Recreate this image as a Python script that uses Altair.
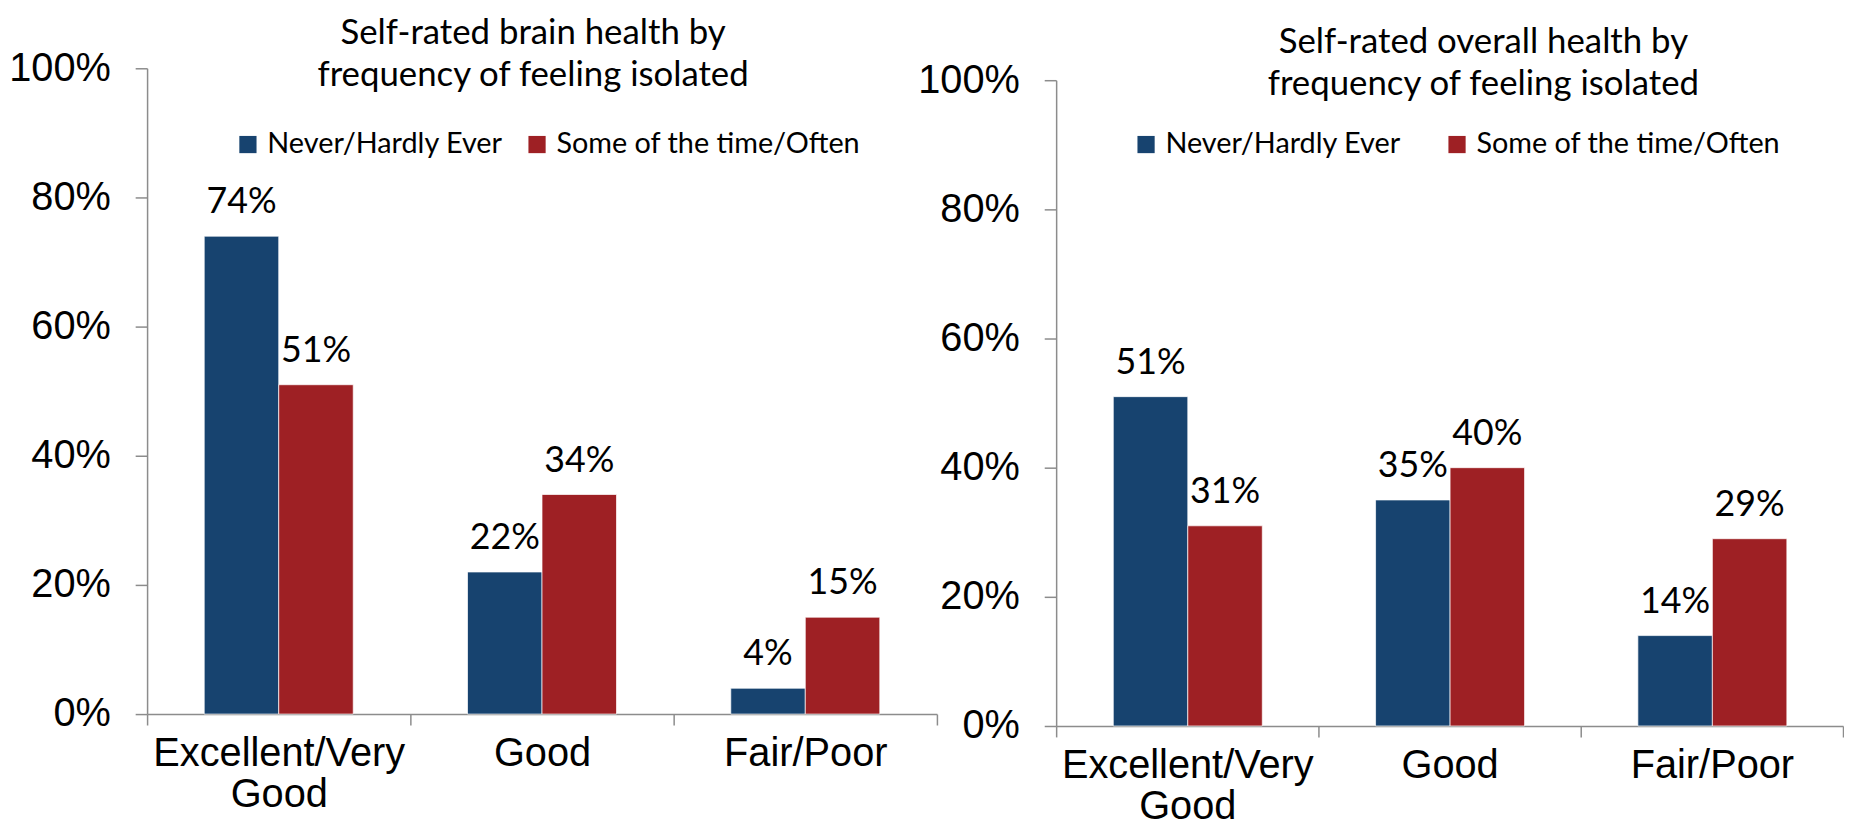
import altair as alt
import pandas as pd

categories = ["Excellent/Very Good", "Good", "Fair/Poor"]
series = ["Never/Hardly Ever", "Some of the time/Often"]
brain_never = [74, 22, 4]
brain_often = [51, 34, 15]
overall_never = [51, 35, 14]
overall_often = [31, 40, 29]
colors = ["#17436F", "#9E2024"]
y_ticks = [0, 0.2, 0.4, 0.6, 0.8, 1.0]
brain_title = ["Self-rated brain health by", "frequency of feeling isolated"]
overall_title = ["Self-rated overall health by", "frequency of feeling isolated"]


def make_df(never, often):
    rows = []
    for c, n, o in zip(categories, never, often):
        rows.append({"cat": c, "series": series[0], "value": n / 100})
        rows.append({"cat": c, "series": series[1], "value": o / 100})
    return pd.DataFrame(rows)


LABEL_EXPR = "datum.value == 'Excellent/Very Good' ? ['Excellent/Very', 'Good'] : datum.value"


def panel(df, title_lines, width, height, top, lx, ly, col_pad, title_dx, title_offset):
    base = alt.Chart(df).encode(
        x=alt.X(
            "cat:N", sort=categories, title=None,
            scale=alt.Scale(paddingInner=0, paddingOuter=0),
            axis=alt.Axis(labelAngle=0, tickBand="extent", tickSize=11,
                          labelPadding=9, labelLineHeight=41,
                          labelExpr=LABEL_EXPR, labelFontSize=40,
                          labelLimit=400, labelFont="Liberation Sans"),
        ),
        xOffset=alt.XOffset("series:N", sort=series,
                            scale=alt.Scale(paddingInner=0, paddingOuter=0.767)),
        y=alt.Y(
            "value:Q", title=None,
            scale=alt.Scale(domain=[0, 1], nice=False, range=[height, top]),
            axis=alt.Axis(values=y_ticks, format=".0%", tickSize=12,
                          labelPadding=25, labelFontSize=40,
                          labelFont="Liberation Sans"),
        ),
    )
    bars = base.mark_bar(stroke="white", strokeWidth=1, strokeOpacity=0.7).encode(
        color=alt.Color(
            "series:N", sort=series,
            scale=alt.Scale(domain=series, range=colors),
            legend=alt.Legend(orient="none", legendX=lx, legendY=ly,
                              direction="horizontal", title=None,
                              symbolType="square", symbolSize=300,
                              symbolStrokeWidth=0, labelFont="Lato",
                              labelFontSize=29, labelOffset=5,
                              columnPadding=col_pad, labelLimit=500,
                              labelColor="black"),
        )
    )
    texts = base.mark_text(dy=-23, baseline="alphabetic", fontSize=36,
                           font="Lato", color="black").encode(
        text=alt.Text("value:Q", format=".0%")
    )
    return alt.layer(bars, texts).properties(
        width=width, height=height,
        title=alt.TitleParams(text=title_lines, font="Lato", fontSize=35,
                              fontWeight="normal", color="black",
                              anchor="middle", frame="group",
                              offset=title_offset, lineHeight=42, dx=title_dx),
    )


left = panel(make_df(brain_never, brain_often), brain_title, 795, 650, 0, 87, 62, 19, -9, -45)
right = panel(make_df(overall_never, overall_often), overall_title, 792, 662, 12, 76, 62, 41, 34, -42)

chart = alt.hconcat(left, right, spacing=-21).resolve_legend(
    color="independent"
).properties(
    padding={"left": 0, "top": 6, "right": 0, "bottom": 0},
    background="white",
).configure_view(stroke=None).configure_axis(
    domainColor="#8C8C8C", tickColor="#8C8C8C", domainWidth=1.5, tickWidth=1.5,
    labelColor="black", grid=False,
)

chart.save("out.html", embed_options={"renderer": "svg", "actions": False})
